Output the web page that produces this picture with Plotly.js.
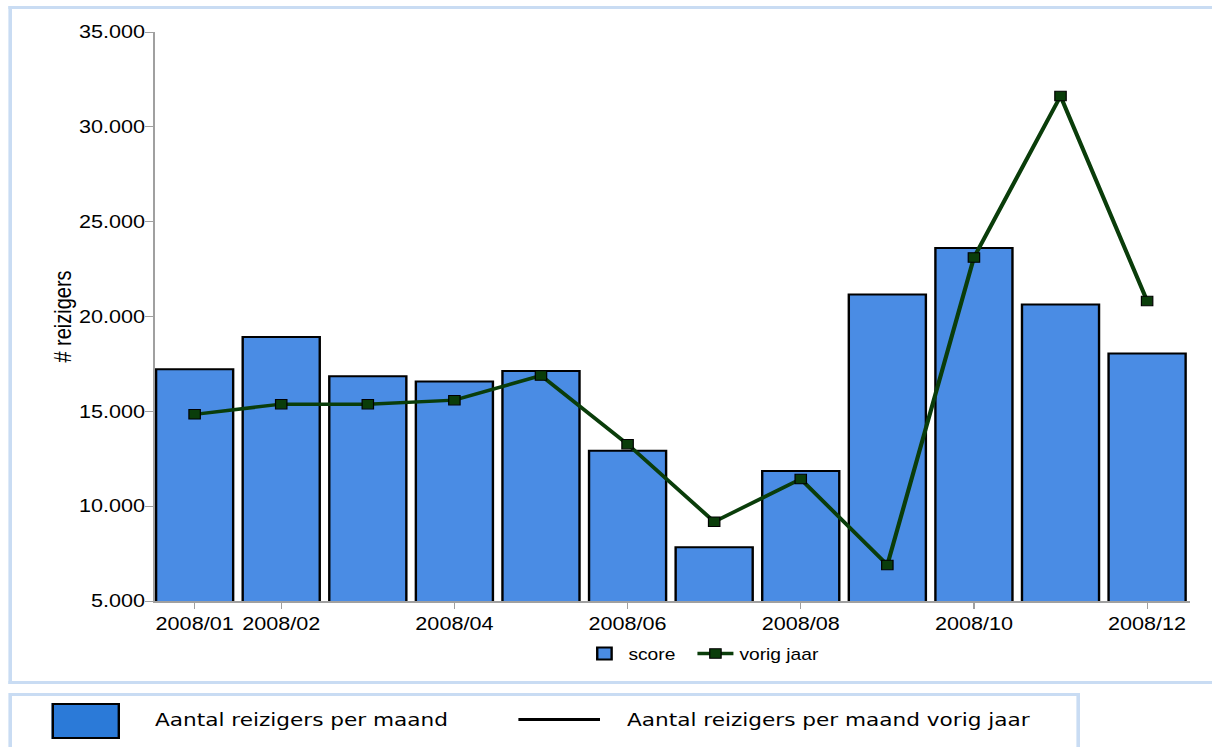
<!DOCTYPE html>
<html>
<head>
<meta charset="utf-8">
<script src="https://cdn.plot.ly/plotly-3.0.1.min.js"></script>
<style>
  html, body { margin: 0; padding: 0; background: #ffffff; overflow: hidden; }
  #page {
    position: absolute; left: 0; top: 0;
    width: 1010px; height: 747px;
    transform: scaleX(1.2); transform-origin: 0 0;
  }
  #frame {
    position: absolute; left: 6.7px; top: 6px;
    width: 1010px; height: 678px;
    border: 3px solid #c9dcf3; box-sizing: border-box; border-right: none;
  }
  #keybox {
    position: absolute; left: 6.7px; top: 693px;
    width: 893px; height: 70px;
    border: 3px solid #c9dcf3; box-sizing: border-box;
  }
  #chart { position: absolute; left: 0; top: 0; width: 1010px; height: 747px; }
  .key-swatch {
    position: absolute; left: 43.3px; top: 703px; width: 56.7px; height: 36px;
    background: #2b7ad8; border: 2.5px solid #000; box-sizing: border-box;
  }
  .key-line {
    position: absolute; left: 431.7px; top: 718px; width: 68.3px; height: 3px; background: #000;
  }
  .key-text {
    position: absolute; top: 708px; font-family: "DejaVu Sans", Verdana, sans-serif;
    font-size: 18px; color: #000; line-height: 24px; white-space: nowrap;
  }
</style>
</head>
<body>
<div id="page">
  <div id="frame"></div>
  <div id="keybox"></div>
  <div id="chart"></div>
  <div class="key-swatch"></div>
  <div class="key-text" style="left:129.2px">Aantal reizigers per maand</div>
  <div class="key-line"></div>
  <div class="key-text" style="left:522.5px">Aantal reizigers per maand vorig jaar</div>
</div>
<script>
// Monthly passenger counts, 2008, with the previous year for comparison
const months = ["2008/01", "2008/02", "2008/03", "2008/04", "2008/05", "2008/06",
                "2008/07", "2008/08", "2008/09", "2008/10", "2008/11", "2008/12"];
const score = [17220, 18920, 16850, 16570, 17120, 12920, 7830, 11860, 21160, 23610, 20630, 18050];
const vorigJaar = [14840, 15380, 15380, 15590, 16890, 13270, 9180, 11430, 6900, 23110, 31620, 20820];

const xTickLabels = ["2008/01", "2008/02", "2008/04", "2008/06", "2008/08", "2008/10", "2008/12"];
const yTickValues = [5000, 10000, 15000, 20000, 25000, 30000, 35000];
const yTickLabels = ["5.000", "10.000", "15.000", "20.000", "25.000", "30.000", "35.000"];

const barTrace = {
  type: "bar",
  name: "score",
  x: months,
  y: score,
  legendwidth: 47.5,
  marker: { color: "#4a8ce4", line: { color: "#000000", width: 2 } }
};

const lineTrace = {
  type: "scatter",
  mode: "lines+markers",
  name: "vorig jaar",
  x: months,
  y: vorigJaar,
  line: { color: "#0a3d0a", width: 3.5 },
  marker: { symbol: "square", size: 9.5, color: "#0a3d0a", line: { color: "#000000", width: 1 } }
};

const axisFont = { family: "Liberation Sans, Arial, sans-serif", size: 18, color: "#000000" };

const layout = {
  width: 1010,
  height: 747,
  margin: { l: 129.2, r: 17.5, t: 31.5, b: 146, pad: 0 },
  paper_bgcolor: "rgba(0,0,0,0)",
  plot_bgcolor: "rgba(0,0,0,0)",
  bargap: 0.11,
  showlegend: true,
  legend: {
    orientation: "h",
    x: 0.411, xanchor: "left",
    y: -0.0625, yanchor: "top",
    font: { family: "Liberation Sans, Arial, sans-serif", size: 16, color: "#000000" },
    bgcolor: "rgba(0,0,0,0)"
  },
  xaxis: {
    type: "category",
    range: [-0.46, 11.5],
    tickmode: "array",
    tickvals: xTickLabels,
    ticktext: xTickLabels,
    ticks: "outside",
    ticklen: 6,
    tickcolor: "#a0a0a0",
    tickfont: axisFont,
    showline: true,
    linecolor: "#a0a0a0",
    linewidth: 1.5,
    showgrid: false,
    zeroline: false,
    fixedrange: true
  },
  yaxis: {
    range: [5000, 35000],
    tickmode: "array",
    tickvals: yTickValues,
    ticktext: yTickLabels,
    ticks: "outside",
    ticklen: 7,
    tickcolor: "#a0a0a0",
    tickfont: axisFont,
    ticklabelstandoff: -4,
    showline: true,
    linecolor: "#a0a0a0",
    linewidth: 1.5,
    showgrid: false,
    zeroline: false,
    fixedrange: true,
    title: {
      text: "# reizigers",
      font: { family: "Liberation Sans, Arial, sans-serif", size: 20, color: "#000000" },
      standoff: 0
    }
  }
};

Plotly.newPlot("chart", [barTrace, lineTrace], layout, { displayModeBar: false, staticPlot: true });
</script>
</body>
</html>
